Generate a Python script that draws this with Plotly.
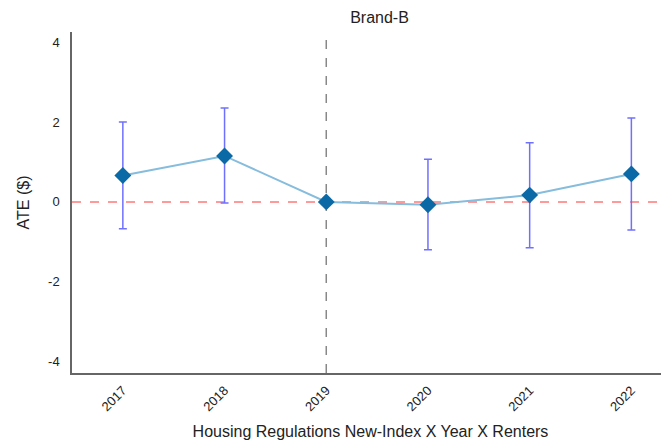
import plotly.graph_objects as go

years = [2017, 2018, 2019, 2020, 2021, 2022]
ate = [0.66, 1.15, 0.0, -0.07, 0.17, 0.70]
ci_upper = [2.0, 2.35, None, 1.07, 1.48, 2.1]
ci_lower = [-0.67, -0.03, None, -1.2, -1.15, -0.7]
y_ticks = [-4, -2, 0, 2, 4]

err_plus = [(u - a) if u is not None else 0 for u, a in zip(ci_upper, ate)]
err_minus = [(a - l) if l is not None else 0 for l, a in zip(ci_lower, ate)]
err_vis = [u is not None for u in ci_upper]

fig = go.Figure()

# error bars (separate trace so that 2019 has none)
fig.add_trace(go.Scatter(
    x=[y for y, v in zip(years, err_vis) if v],
    y=[a for a, v in zip(ate, err_vis) if v],
    mode="markers",
    marker=dict(size=0.1, opacity=0),
    error_y=dict(type="data", symmetric=False,
                 array=[p for p, v in zip(err_plus, err_vis) if v],
                 arrayminus=[m for m, v in zip(err_minus, err_vis) if v],
                 color="#7070ff", thickness=1.5, width=4),
    showlegend=False, hoverinfo="skip",
))

fig.add_trace(go.Scatter(
    x=years, y=ate, mode="lines+markers",
    line=dict(color="#86bcdc", width=2),
    marker=dict(symbol="diamond", size=13, color="#0b6aa6"),
    showlegend=False,
))

fig.add_hline(y=0, line=dict(color="#ff9a9a", width=2, dash="dash"), layer="below")
fig.add_vline(x=2019, line=dict(color="#888888", width=1.5, dash="dash"), layer="below")

fig.update_layout(
    width=661, height=435,
    margin=dict(l=64, r=0, t=24, b=70),
    paper_bgcolor="white", plot_bgcolor="white",
    font=dict(family="Liberation Sans, Arial, sans-serif", color="#222222"),
    title=dict(text="Brand-B", x=0.562, xanchor="center", y=0.978, yanchor="middle",
               font=dict(size=16, color="#222222")),
)
fig.update_xaxes(
    range=[2016.5, 2022.37], tickmode="array", tickvals=years,
    ticktext=[str(y) for y in years], tickangle=-45,
    tickfont=dict(size=13, color="#222222"),
    showline=True, linecolor="#666666", linewidth=1.5, showgrid=False, zeroline=False,
    ticks="", ticklabelstandoff=3,
    title=dict(text="Housing Regulations New-Index X Year X Renters",
               font=dict(size=16, color="#222222"), standoff=13),
)
fig.update_yaxes(
    range=[-4.28, 4.25], tickmode="array", tickvals=y_ticks,
    ticktext=[str(t) for t in y_ticks],
    tickfont=dict(size=13, color="#222222"),
    showline=True, linecolor="#666666", linewidth=1.5, showgrid=False, zeroline=False,
    ticks="", ticklabelstandoff=8,
    title=dict(text="ATE ($)", font=dict(size=16, color="#222222"), standoff=14),
)

fig.write_html("out.html")
